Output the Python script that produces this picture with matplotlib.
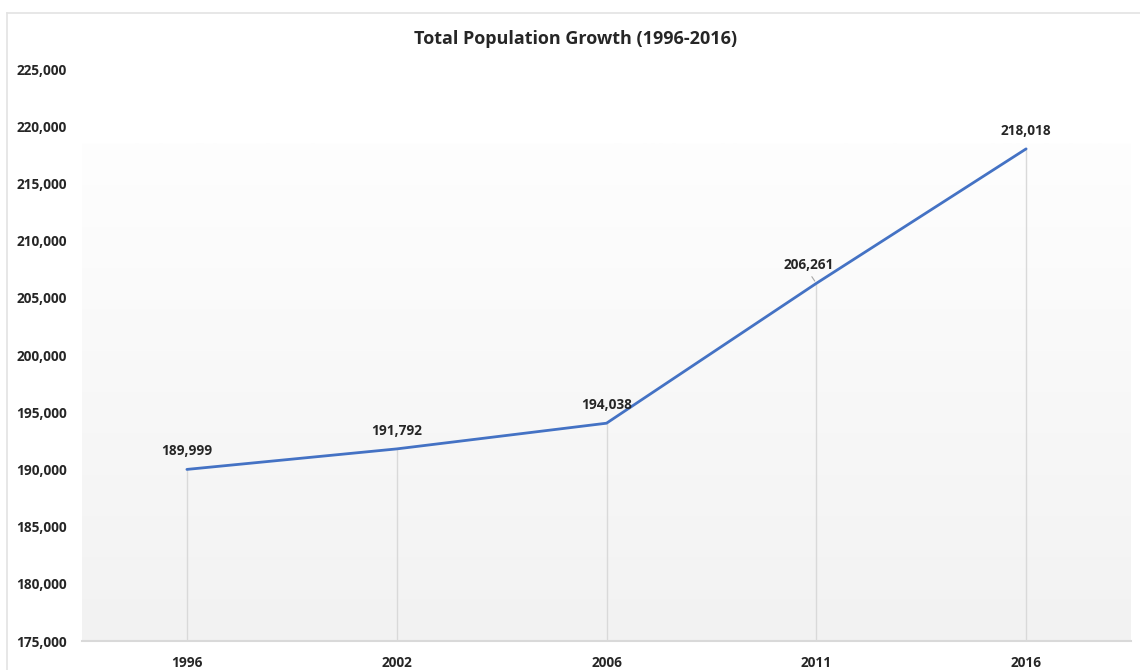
import matplotlib
matplotlib.use("Agg")
import matplotlib.pyplot as plt
import numpy as np
from matplotlib.lines import Line2D
from matplotlib.colors import LinearSegmentedColormap

years = ["1996", "2002", "2006", "2011", "2016"]
population = [189999, 191792, 194038, 206261, 218018]
y_ticks = list(range(175000, 225001, 5000))
title = "Total Population Growth (1996-2016)"

plt.rcParams['font.family'] = ['Open Sans', 'DejaVu Sans']

W, H = 1140, 670
fig = plt.figure(figsize=(W / 100, H / 100), dpi=100)
fig.patch.set_facecolor("white")

# outer chart border (top and left visible)
fig.add_artist(Line2D([7 / W, 1], [1 - 13 / H, 1 - 13 / H], color="#e3e3e3", lw=1.2, transform=fig.transFigure))
fig.add_artist(Line2D([7 / W, 7 / W], [0, 1 - 13 / H], color="#e3e3e3", lw=1.2, transform=fig.transFigure))

left, right = 82 / W, 1131 / W
bottom, top = 1 - 641 / H, 1 - 69 / H
ax = fig.add_axes([left, bottom, right - left, top - bottom])
ax.set_facecolor("none")

x = np.arange(len(years))
ax.set_xlim(-0.5, len(years) - 0.5)
ax.set_ylim(y_ticks[0], y_ticks[-1])

# gradient plot-area background
grad_top = 218530
grad = np.linspace(0, 1, 256).reshape(-1, 1)
cmap = LinearSegmentedColormap.from_list("g", ["#f2f2f2", "#fefefe"])
ax.imshow(grad, extent=[-0.5, len(years) - 0.5, y_ticks[0], grad_top], origin="lower",
          aspect="auto", cmap=cmap, zorder=0)

# drop lines
for xi, v in zip(x, population):
    ax.plot([xi, xi], [y_ticks[0], v], color="#d9d9d9", lw=1.0, zorder=1)

ax.plot(x, population, color="#4472C4", lw=2.0, zorder=3, solid_capstyle="round")

lab_kw = dict(ha="center", va="center", fontsize=9.8, fontweight="bold", color="#262626", zorder=4)
for i, (xi, v) in enumerate(zip(x, population)):
    if i == 3:
        ax.annotate(f"{v:,}", xy=(xi, v), xytext=(-8, 18), textcoords="offset pixels", **lab_kw)
        ax.annotate("", xy=(xi, v), xytext=(-6, 9), textcoords="offset pixels",
                    arrowprops=dict(arrowstyle="-", color="#a6a6a6", lw=0.8))
    else:
        ax.annotate(f"{v:,}", xy=(xi, v), xytext=(0, 18), textcoords="offset pixels", **lab_kw)

ax.set_xticks(x)
ax.set_xticklabels(years)
ax.set_yticks(y_ticks)
ax.set_yticklabels([f"{t:,}" for t in y_ticks])
for lab in ax.get_xticklabels() + ax.get_yticklabels():
    lab.set_fontweight("bold")
    lab.set_fontsize(9.8)
    lab.set_color("#262626")
ax.tick_params(axis="both", length=0)
ax.tick_params(axis="y", pad=11)
ax.tick_params(axis="x", pad=11)

for s in ["top", "right", "left"]:
    ax.spines[s].set_visible(False)
ax.spines["bottom"].set_color("#d9d9d9")
ax.spines["bottom"].set_linewidth(1.5)

fig.text(576 / W, 1 - 39 / H, title, ha="center", va="center", fontsize=13,
         fontweight="bold", color="#262626")

fig.savefig("out.png", dpi=100)
